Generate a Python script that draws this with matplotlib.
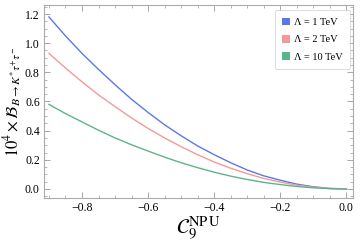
import numpy as np
import matplotlib.pyplot as plt
from matplotlib.ticker import MultipleLocator
from matplotlib.patches import Patch

plt.rcParams['font.family'] = 'serif'
plt.rcParams['font.serif'] = ['Liberation Serif', 'DejaVu Serif']
plt.rcParams['mathtext.fontset'] = 'stix'

# values
c9 = [-0.90, -0.85, -0.80, -0.75, -0.70, -0.65, -0.60, -0.55, -0.50, -0.45,
      -0.40, -0.35, -0.30, -0.25, -0.20, -0.15, -0.10, -0.05, 0.00]
br_1tev = [1.18, 1.05, 0.93, 0.82, 0.715, 0.615, 0.525, 0.44, 0.365, 0.295,
           0.235, 0.18, 0.13, 0.09, 0.06, 0.033, 0.015, 0.004, 0.0]
br_2tev = [0.93, 0.83, 0.735, 0.645, 0.565, 0.487, 0.415, 0.35, 0.29, 0.235,
           0.185, 0.142, 0.105, 0.072, 0.047, 0.026, 0.012, 0.003, 0.0]
br_10tev = [0.58, 0.517, 0.46, 0.403, 0.35, 0.303, 0.26, 0.218, 0.18, 0.146,
            0.115, 0.088, 0.065, 0.045, 0.03, 0.017, 0.008, 0.002, 0.0]
labels = ['\u039b = 1 TeV', '\u039b = 2 TeV', '\u039b = 10 TeV']
colors = ['#5b79e6', '#f29a9a', '#5cb58a']

fig = plt.figure(figsize=(3.61, 2.45), dpi=100)
ax = fig.add_axes([44/361, 1-198/245, 309/361, 193/245])

for ys, col in zip([br_1tev, br_2tev, br_10tev], colors):
    ax.plot(c9, ys, color=col, lw=1.0)

ax.set_xlim(-0.915, 0.02)
ax.set_ylim(-0.062, 1.262)
ax.xaxis.set_major_locator(MultipleLocator(0.2))
ax.xaxis.set_minor_locator(MultipleLocator(0.05))
ax.yaxis.set_major_locator(MultipleLocator(0.2))
ax.yaxis.set_minor_locator(MultipleLocator(0.05))
ax.xaxis.set_major_formatter(plt.FuncFormatter(lambda v, p: f'{v:.1f}'.replace('-', '\u2212')))
ax.yaxis.set_major_formatter(plt.FuncFormatter(lambda v, p: f'{v:.1f}'))
ax.tick_params(which='both', direction='in', top=True, right=True,
               color='#999999', labelsize=8.5, pad=3)
ax.tick_params(which='major', length=4, width=0.6)
ax.tick_params(which='minor', length=2, width=0.5)
for s in ax.spines.values():
    s.set_color('#aaaaaa')
    s.set_linewidth(0.8)

ax.set_xlabel(r'$\mathcal{C}_9^{\mathrm{NP\,U}}$', fontsize=15, labelpad=0)
ax.set_ylabel(r'$10^4\times\mathcal{B}_{B\to K^{*}\tau^{+}\tau^{-}}$', fontsize=12, labelpad=1)

handles = [Patch(facecolor=c, edgecolor='none') for c in colors]
leg = ax.legend(handles, labels, loc='upper right', fontsize=7.5,
                handlelength=0.75, handleheight=0.75, handletextpad=0.35,
                borderpad=0.7, labelspacing=0.75, borderaxespad=0,
                frameon=True, fancybox=True, bbox_to_anchor=(0.99, 0.972))
leg.get_frame().set_edgecolor('#cccccc')
leg.get_frame().set_linewidth(0.6)

fig.savefig('out.png', dpi=100)
